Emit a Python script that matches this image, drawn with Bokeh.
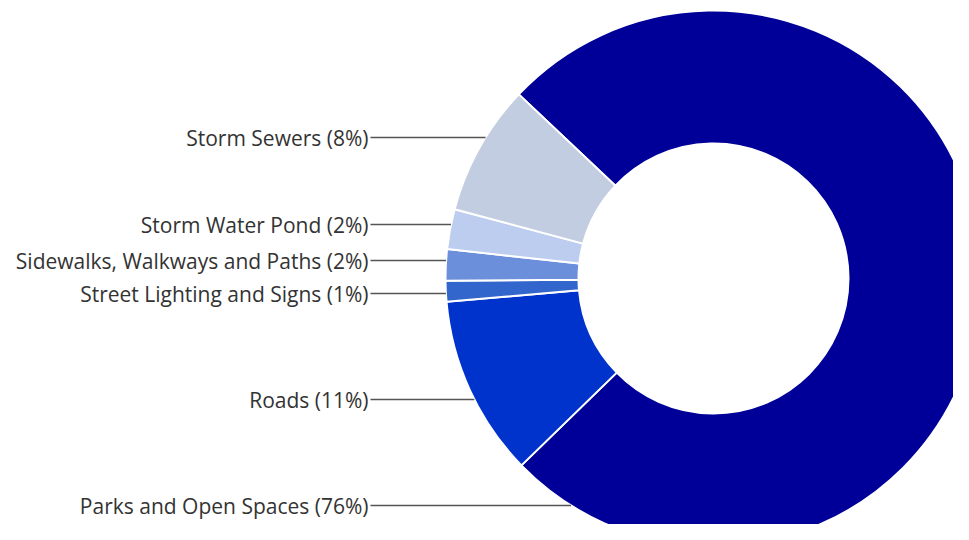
import math
from bokeh.plotting import figure
from bokeh.models import Range1d, ColumnDataSource
from bokeh.core.properties import value
from bokeh.embed import file_html
from bokeh.resources import INLINE

# ---- data ----
categories = ["Parks and Open Spaces", "Roads", "Street Lighting and Signs",
              "Sidewalks, Walkways and Paths", "Storm Water Pond", "Storm Sewers"]
shares = [75.7, 10.9, 1.25, 1.9, 2.4, 7.9]
pct_labels = ["76%", "11%", "1%", "2%", "2%", "8%"]
colors = ["#000099", "#0033CC", "#3366CC", "#6B8FDA", "#BDCDF0", "#C3CDE1"]

# ---- layout (screen pixel space, y measured from the top of the picture) ----
W, H = 953, 524
CX, CY = 713, 278
R_OUT, R_IN = 268, 135
START_DEG = 136.6
label_screen_y = [505, 399, 293, 260, 224, 137]
LABEL_RIGHT = 368
LINE_START = 370

def to_data_y(sy):
    return H - sy

p = figure(width=W, height=H, output_backend="svg", toolbar_location=None,
           x_range=Range1d(0, W), y_range=Range1d(0, H),
           min_border=0, outline_line_color=None)
p.axis.visible = False
p.xgrid.visible = False
p.ygrid.visible = False
p.background_fill_color = "white"
p.border_fill_color = "white"

total = sum(shares)
starts, ends = [], []
acc = 0.0
for s in shares:
    a0 = math.radians(START_DEG) - acc / total * 2 * math.pi
    acc += s
    a1 = math.radians(START_DEG) - acc / total * 2 * math.pi
    starts.append(a0)
    ends.append(a1)

src = ColumnDataSource(dict(start=starts, end=ends, color=colors))
p.annular_wedge(x=CX, y=to_data_y(CY), inner_radius=R_IN, outer_radius=R_OUT,
                start_angle="start", end_angle="end", direction="clock",
                fill_color="color", line_color="white", line_width=2, source=src)

# leader lines and labels
xs0, xs1, ys = [], [], []
texts = []
for cat, pl, sy in zip(categories, pct_labels, label_screen_y):
    dy = sy - CY
    xe = CX - math.sqrt(max(R_OUT**2 - dy**2, 0))
    xs0.append(LINE_START)
    xs1.append(xe)
    ys.append(to_data_y(sy))
    texts.append(f"{cat} ({pl})")

p.segment(x0=xs0, y0=ys, x1=xs1, y1=ys, line_color="#555555", line_width=1.3)
p.text(x=[LABEL_RIGHT] * len(ys), y=ys, text=texts, text_align="right",
       text_baseline="middle", text_font=value("Open Sans"),
       text_font_size="21px", text_color="#333333")

open("out.html", "w").write(file_html(p, INLINE))
